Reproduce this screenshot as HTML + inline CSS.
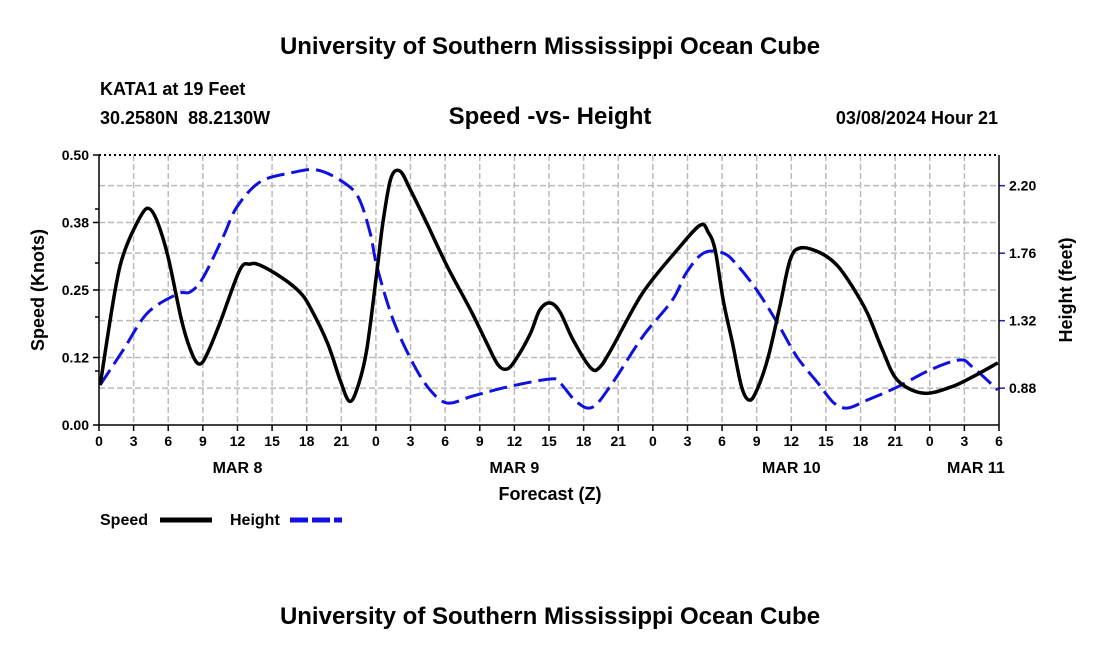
<!DOCTYPE html>
<html><head><meta charset="utf-8"><style>
body{margin:0;background:#fff;}
svg{display:block;font-family:"Liberation Sans",Arial,sans-serif;}
</style></head><body>
<svg id="chart" width="1100" height="650" viewBox="0 0 1100 650">
<text x="550" y="54" text-anchor="middle" font-size="24" font-weight="bold">University of Southern Mississippi Ocean Cube</text>
<text x="100" y="95" font-size="18" font-weight="bold">KATA1 at 19 Feet</text>
<text x="100" y="124" font-size="18" font-weight="bold" xml:space="preserve">30.2580N  88.2130W</text>
<text x="550" y="124" text-anchor="middle" font-size="24" font-weight="bold">Speed -vs- Height</text>
<text x="998" y="124" text-anchor="end" font-size="18" font-weight="bold">03/08/2024 Hour 21</text>
<g id="grid"></g>
<g id="axes"></g>
<g id="series"></g>
<text x="550" y="500" text-anchor="middle" font-size="18" font-weight="bold">Forecast (Z)</text>
<text transform="translate(44,290) rotate(-90)" text-anchor="middle" font-size="18" font-weight="bold">Speed (Knots)</text>
<text transform="translate(1072,290) rotate(-90)" text-anchor="middle" font-size="18" font-weight="bold">Height (feet)</text>
<g><text x="100" y="525" font-size="16" font-weight="bold">Speed</text><line x1="160" y1="520" x2="212" y2="520" stroke="#000" stroke-width="5"/></g>
<g><text x="230" y="525" font-size="16" font-weight="bold">Height</text><line x1="290" y1="520" x2="342" y2="520" stroke="#1010e0" stroke-width="5" stroke-dasharray="18,4"/></g>
<text x="550" y="624" text-anchor="middle" font-size="24" font-weight="bold">University of Southern Mississippi Ocean Cube</text>
</svg>
<script>
const speedHours=[0.1,1.4,2.25,3.7,4.4,5.1,6.0,7.2,8.1,8.75,9.4,10.5,12.2,13.1,13.95,15.9,17.4,18.3,19.8,20.9,21.7,22.4,23.2,24.1,24.6,25.3,26.1,27.0,28.4,30.2,32.2,33.6,34.6,35.4,36.2,37.4,38.2,39.1,39.96,41.1,42.6,43.4,44.5,47.1,50.1,52.1,52.8,53.4,54.1,54.9,55.7,56.4,57.1,58.0,59.0,59.9,60.8,62.5,63.96,65.3,66.6,67.9,69.2,71.4,73.8,75.7,77.9];
const speedValues=[0.074,0.25,0.324,0.39,0.40,0.374,0.31,0.19,0.13,0.113,0.133,0.19,0.287,0.298,0.296,0.272,0.246,0.218,0.152,0.083,0.044,0.069,0.139,0.287,0.374,0.457,0.470,0.435,0.374,0.293,0.213,0.152,0.111,0.104,0.124,0.170,0.213,0.226,0.209,0.157,0.106,0.107,0.144,0.244,0.324,0.370,0.357,0.324,0.231,0.152,0.070,0.046,0.069,0.126,0.219,0.306,0.328,0.319,0.296,0.256,0.207,0.139,0.083,0.059,0.070,0.089,0.115];
const heightHours=[0.1,2.1,4.2,6.8,7.9,9.0,10.75,11.95,13.95,16.6,18.9,21.15,22.5,23.5,24.1,25.5,27.2,28.7,30.2,32.4,35.4,39.1,39.96,41.4,42.8,44.5,47.1,49.7,50.9,52.4,54.1,55.3,57.0,58.8,60.5,62.3,63.7,64.9,66.6,69.2,72.0,74.6,75.7,77.9];
const heightValues=[0.901,1.129,1.370,1.494,1.507,1.598,1.865,2.061,2.224,2.283,2.302,2.224,2.12,1.892,1.670,1.324,1.044,0.868,0.783,0.829,0.888,0.940,0.914,0.790,0.757,0.914,1.214,1.455,1.632,1.761,1.761,1.683,1.520,1.305,1.083,0.914,0.783,0.751,0.803,0.888,0.998,1.064,1.018,0.868];
const xTickLabels=["0","3","6","9","12","15","18","21","0","3","6","9","12","15","18","21","0","3","6","9","12","15","18","21","0","3","6"];
const dayLabels=["MAR 8","MAR 9","MAR 10","MAR 11"];
const dayLabelHours=[12,36,60,76];
const leftTicks=[0,0.125,0.25,0.375,0.5];
const leftTickLabels=["0.00","0.12","0.25","0.38","0.50"];
const leftMinorTicks=[0.1,0.2,0.3,0.4];
const rightTicks=[0.88,1.32,1.76,2.20];
const rightTickLabels=["0.88","1.32","1.76","2.20"];
const X0=99,X1=999,Y0=425,Y1=155,HMAX=78,HMIN_R=0.64,HMAX_R=2.40;
const xs=h=>X0+(X1-X0)*h/HMAX;
const yl=v=>Y0-(Y0-Y1)*v/0.5;
const yr=v=>Y0-(Y0-Y1)*(v-HMIN_R)/(HMAX_R-HMIN_R);
const NS="http://www.w3.org/2000/svg";
function mk(tag,attrs,parent){const e=document.createElementNS(NS,tag);for(const k in attrs)e.setAttribute(k,attrs[k]);parent.appendChild(e);return e;}
const grid=document.getElementById('grid'),axes=document.getElementById('axes'),series=document.getElementById('series');
for(let i=0;i<xTickLabels.length;i++){const h=i*3,x=xs(h);
 if(i>0&&i<xTickLabels.length-1){const g=mk('line',{x1:x,y1:Y1,x2:x,y2:Y0,stroke:'#bbb','stroke-width':1.5,'stroke-dasharray':'6,3'},grid);}
 const t=mk('line',{x1:x,y1:Y0,x2:x,y2:Y0+6,stroke:'#000','stroke-width':1.5},axes);
 const tx=mk('text',{x:x,y:Y0+21,'text-anchor':'middle','font-size':14,'font-weight':'bold'},axes);tx.textContent=xTickLabels[i];}
for(let i=0;i<dayLabels.length;i++){const tx=mk('text',{x:xs(dayLabelHours[i]),y:Y0+48,'text-anchor':'middle','font-size':16,'font-weight':'bold'},axes);tx.textContent=dayLabels[i];}
for(let i=0;i<leftTicks.length;i++){const y=yl(leftTicks[i]);
 if(i>0&&i<leftTicks.length-1){const g=mk('line',{x1:X0,y1:y,x2:X1,y2:y,stroke:'#bbb','stroke-width':1.5,'stroke-dasharray':'6,3'},grid);}
 const t=mk('line',{x1:X0-6,y1:y,x2:X0,y2:y,stroke:'#000','stroke-width':1.5},axes);
 const tx=mk('text',{x:X0-10,y:y+5,'text-anchor':'end','font-size':14,'font-weight':'bold'},axes);tx.textContent=leftTickLabels[i];}
for(let i=0;i<leftMinorTicks.length;i++){const y=yl(leftMinorTicks[i]);const t=mk('line',{x1:X0-4,y1:y,x2:X0,y2:y,stroke:'#000','stroke-width':1.5},axes);}
for(let i=0;i<rightTicks.length;i++){const y=yr(rightTicks[i]);
 const g=mk('line',{x1:X0,y1:y,x2:X1,y2:y,stroke:'#bbb','stroke-width':1.5,'stroke-dasharray':'6,3'},grid);
 const t=mk('line',{x1:X1,y1:y,x2:X1+6,y2:y,stroke:'#2020c0','stroke-width':1.5},axes);
 const tx=mk('text',{x:X1+10,y:y+5,'font-size':14,'font-weight':'bold'},axes);tx.textContent=rightTickLabels[i];}
const b=mk('line',{x1:X0,y1:Y0,x2:X1,y2:Y0,stroke:'#000','stroke-width':1.5},axes);
const l=mk('line',{x1:X0,y1:Y1,x2:X0,y2:Y0,stroke:'#000','stroke-width':1.5},axes);
const r=mk('line',{x1:X1,y1:Y1,x2:X1,y2:Y0,stroke:'#000','stroke-width':1.5},axes);
const tp=mk('line',{x1:X0,y1:Y1,x2:X1,y2:Y1,stroke:'#000','stroke-width':2,'stroke-dasharray':'2,3'},axes);
function smooth(pts){let d=`M${pts[0][0]},${pts[0][1]}`;for(let i=0;i<pts.length-1;i++){const p0=pts[Math.max(i-1,0)],p1=pts[i],p2=pts[i+1],p3=pts[Math.min(i+2,pts.length-1)];
 d+=` C${p1[0]+(p2[0]-p0[0])/6},${p1[1]+(p2[1]-p0[1])/6} ${p2[0]-(p3[0]-p1[0])/6},${p2[1]-(p3[1]-p1[1])/6} ${p2[0]},${p2[1]}`;}return d;}
const hp=mk('path',{d:smooth(heightHours.map((h,i)=>[xs(h),yr(heightValues[i])])),fill:'none',stroke:'#1010e0','stroke-width':3,'stroke-dasharray':'18,7'},series);

const sp=mk('path',{d:smooth(speedHours.map((h,i)=>[xs(h),yl(speedValues[i])])),fill:'none',stroke:'#000','stroke-width':3.5},series);

</script>
</body></html>
